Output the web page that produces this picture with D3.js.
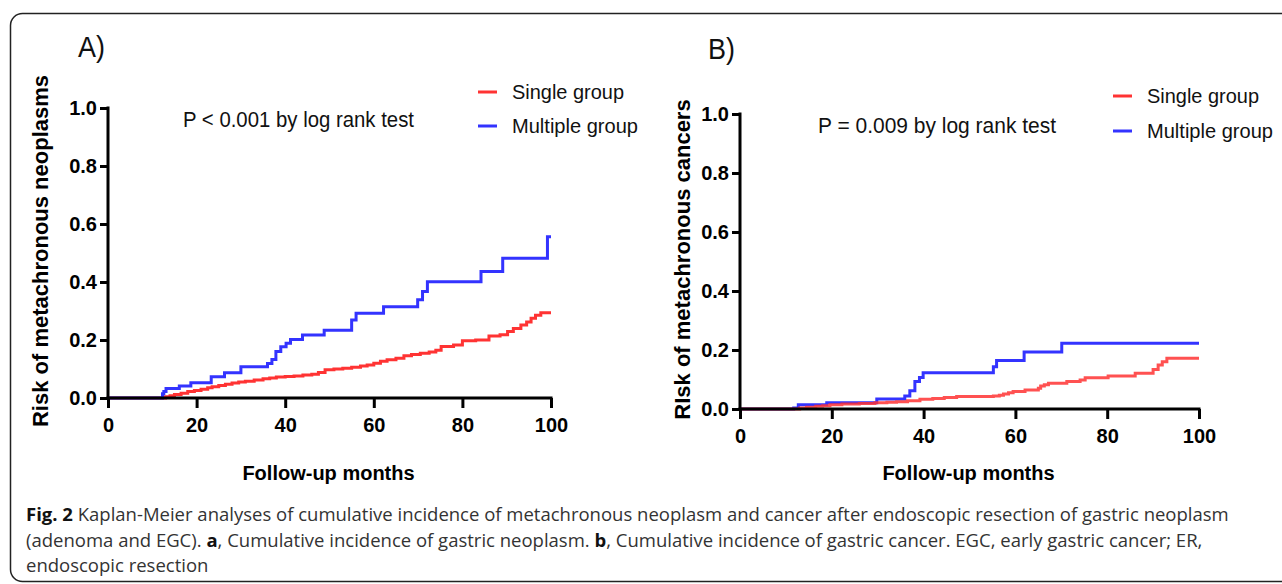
<!DOCTYPE html>
<html>
<head>
<meta charset="utf-8">
<script src="https://cdn.jsdelivr.net/npm/d3@7"></script>
<style>
html,body{margin:0;padding:0;background:#fff;}
svg{display:block;}
</style>
</head>
<body>
<svg id="chart" width="1282" height="584"></svg>
<script>
// ---- Data ----
const xTicks = [0, 20, 40, 60, 80, 100];
const yTicks = [0, 0.2, 0.4, 0.6, 0.8, 1.0];
const seriesNames = ["Single group", "Multiple group"];
const seriesColors = ["#ff3333", "#3333ff"];

// Panel A: metachronous neoplasms [month, cumulative incidence]
const neoplasmSingle = [[0,0],[12.3,0],[13,0.004],[14,0.008],[15,0.012],[16.5,0.016],[18,0.022],[19.5,0.026],[21,0.030],[22.5,0.035],[23.5,0.039],[25,0.043],[26.5,0.047],[28,0.052],[29.5,0.055],[31,0.058],[33,0.062],[35,0.066],[36.5,0.069],[38,0.072],[40,0.074],[42,0.076],[44,0.079],[46,0.082],[47.5,0.088],[49,0.097],[51,0.100],[53,0.103],[55,0.106],[57,0.110],[58.5,0.114],[60,0.120],[61.5,0.127],[63,0.132],[65,0.137],[66.8,0.146],[68.5,0.150],[70.5,0.154],[72.5,0.159],[74,0.165],[75.2,0.178],[78,0.183],[80,0.197],[83,0.200],[86,0.214],[88.5,0.218],[90.2,0.229],[91.5,0.240],[93.2,0.252],[94.5,0.262],[95.5,0.275],[96.5,0.285],[97.7,0.294],[100,0.294]];
const neoplasmMultiple = [[0,0],[12,0],[12.3,0.015],[12.6,0.022],[13.1,0.033],[16.1,0.041],[18.7,0.053],[23.3,0.073],[26.3,0.087],[30,0.108],[36,0.119],[37,0.133],[37.9,0.160],[39,0.177],[40.2,0.189],[41.2,0.202],[43.9,0.217],[48.8,0.234],[55,0.269],[56,0.292],[62.2,0.315],[69.9,0.339],[71,0.367],[72.1,0.401],[84.2,0.436],[89.1,0.482],[99.2,0.556],[100,0.556]];

// Panel B: metachronous cancers
const cancerSingle = [[0,0],[11.6,0],[13,0.003],[14.5,0.006],[16.5,0.009],[18,0.011],[19.6,0.014],[22.2,0.017],[26,0.019],[29.4,0.021],[32,0.023],[34.1,0.025],[36.5,0.028],[39.2,0.033],[42,0.036],[44.5,0.039],[47.2,0.042],[55.2,0.044],[56.5,0.047],[57.4,0.051],[58.5,0.055],[59.5,0.059],[62.1,0.064],[65,0.070],[65.5,0.078],[66.3,0.082],[67.2,0.087],[71.2,0.093],[74.1,0.098],[75.2,0.106],[80.2,0.112],[86.1,0.121],[90,0.134],[91.1,0.149],[92,0.160],[93,0.172],[100,0.172]];
const cancerMultiple = [[0,0],[11.6,0],[11.7,0.003],[12.7,0.014],[18.9,0.021],[29.8,0.034],[35.9,0.044],[37,0.062],[38.1,0.093],[39.1,0.107],[39.9,0.123],[55.2,0.143],[55.9,0.164],[61.9,0.193],[70.1,0.223],[100,0.223]];

const panels = [
  {label:"A)", ytitle:"Risk of metachronous neoplasms", ptext:"P < 0.001 by log rank test",
   x0:108, x1:551, y0:398, y1:108, single:neoplasmSingle, multiple:neoplasmMultiple, redOnTop:false,
   labelPos:[78,57], ptextPos:[183,127], ptextLen:231, legendPos:[478,92], legendGap:34,
   ytitleX:48, xtitleY:480},
  {label:"B)", ytitle:"RIsk of metachronous cancers", ptext:"P = 0.009 by log rank test",
   x0:740, x1:1199, y0:409, y1:114, single:cancerSingle, multiple:cancerMultiple, redOnTop:true,
   labelPos:[708,59], ptextPos:[818,133], ptextLen:238, legendPos:[1113,96], legendGap:35,
   ytitleX:690, xtitleY:480}
];

const captionLines = [
  [{t:"Fig. 2", b:true},{t:" Kaplan-Meier analyses of cumulative incidence of metachronous neoplasm and cancer after endoscopic resection of gastric neoplasm"}],
  [{t:"(adenoma and EGC). "},{t:"a", b:true},{t:", Cumulative incidence of gastric neoplasm. "},{t:"b", b:true},{t:", Cumulative incidence of gastric cancer. EGC, early gastric cancer; ER,"}],
  [{t:"endoscopic resection"}]
];

// ---- Drawing ----
const svg = d3.select("#chart");
const FONT = "Arial, 'Liberation Sans', Helvetica, sans-serif";

// frame
svg.append("rect").attr("x",10.5).attr("y",13.5).attr("width",1300).attr("height",568)
  .attr("rx",12).attr("fill","none").attr("stroke","#222").attr("stroke-width",1.5);

panels.forEach(p => {
  const x = d3.scaleLinear().domain([0,100]).range([p.x0,p.x1]);
  const y = d3.scaleLinear().domain([0,1]).range([p.y0,p.y1]);
  const g = svg.append("g");

  const line = d3.line().x(d=>x(d[0])).y(d=>y(d[1])).curve(d3.curveStepAfter);
  const drawS = (data, color, op) => g.append("path").datum(data).attr("d", line)
      .attr("fill","none").attr("stroke",color).attr("stroke-width",3).attr("opacity",op||1);
  if (p.redOnTop) {
    drawS(p.multiple, seriesColors[1]);
    drawS(p.single, seriesColors[0], 0.85);
  } else {
    drawS(p.single, seriesColors[0]);
    drawS(p.multiple, seriesColors[1]);
  }

  const xa = g.append("g").attr("transform",`translate(0,${p.y0})`)
    .call(d3.axisBottom(x).tickValues(xTicks).tickSize(10).tickSizeOuter(0).tickPadding(10).tickFormat(d3.format("d")));
  const ya = g.append("g").attr("transform",`translate(${p.x0},0)`)
    .call(d3.axisLeft(y).tickValues(yTicks).tickSize(8).tickSizeOuter(0).tickPadding(3).tickFormat(d3.format(".1f")));
  [xa, ya].forEach(a => {
    a.selectAll("path,line").attr("stroke","#000").attr("stroke-width",3);
    a.selectAll("text").attr("fill","#000").style("font-family",FONT).style("font-size","20px").style("font-weight","bold");
  });
  xa.select(".domain").attr("d", `M${p.x0-1.5},0H${p.x1+1.5}`);
  ya.select(".domain").attr("d", `M0,${p.y0+1.5}V${p.y1-1.5}`);

  // panel label
  g.append("text").attr("x",p.labelPos[0]).attr("y",p.labelPos[1]).text(p.label)
    .style("font-family",FONT).style("font-size","29px").attr("fill","#111")
    .attr("textLength", 27).attr("lengthAdjust","spacingAndGlyphs");
  // p-value
  g.append("text").attr("x",p.ptextPos[0]).attr("y",p.ptextPos[1]).text(p.ptext)
    .style("font-family",FONT).style("font-size","22px").attr("fill","#111")
    .attr("textLength", p.ptextLen).attr("lengthAdjust","spacingAndGlyphs");
  // legend
  seriesNames.forEach((n,i) => {
    const ly = p.legendPos[1] + i*p.legendGap;
    g.append("line").attr("x1",p.legendPos[0]).attr("x2",p.legendPos[0]+19)
      .attr("y1",ly).attr("y2",ly).attr("stroke",seriesColors[i]).attr("stroke-width",3);
    g.append("text").attr("x",p.legendPos[0]+34).attr("y",ly+7).text(n)
      .style("font-family",FONT).style("font-size","21px").attr("fill","#111")
      .attr("textLength", i===0?112:126).attr("lengthAdjust","spacingAndGlyphs");
  });
  // axis titles
  g.append("text").attr("x",(p.x0+p.x1)/2 - 1).attr("y",p.xtitleY).attr("text-anchor","middle")
    .text("Follow-up months").style("font-family",FONT).style("font-size","20px").style("font-weight","bold").attr("fill","#000");
  g.append("text").attr("transform",`translate(${p.ytitleX},${(p.y0+p.y1)/2 - 2}) rotate(-90)`)
    .attr("text-anchor","middle").text(p.ytitle)
    .style("font-family",FONT).style("font-size","22px").style("font-weight","bold").attr("fill","#000");
});

// caption
const CFONT = "'Open Sans', 'Noto Sans', sans-serif";
captionLines.forEach((ln,i) => {
  const t = svg.append("text").attr("x",26).attr("y",521 + i*25.5)
    .style("font-family",CFONT).style("font-size","18.5px").attr("fill","#333");
  ln.forEach(s => t.append("tspan").text(s.t).style("font-weight", s.b ? "bold" : "normal").attr("fill", s.b ? "#111" : "#333"));
});
</script>
</body>
</html>
